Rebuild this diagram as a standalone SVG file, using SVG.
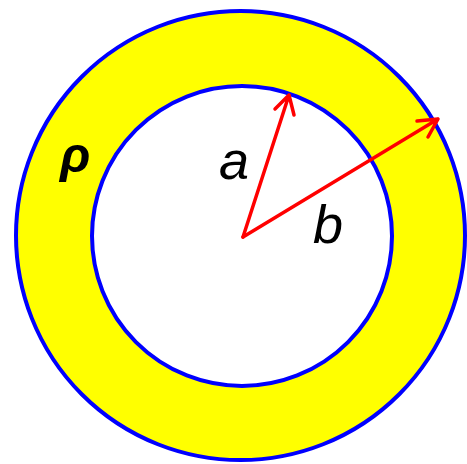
<svg xmlns="http://www.w3.org/2000/svg" width="467" height="464" viewBox="0 0 467 464">
<style>
.ring{stroke:#0000ff;stroke-width:4}
.arr{stroke:#ff0000;stroke-width:3.5;fill:none;stroke-linecap:round;stroke-linejoin:round}
.lbl{font-family:"Liberation Sans",Arial,sans-serif;font-style:italic;font-size:54px;fill:#000}
</style>
<rect width="467" height="464" fill="#ffffff"/>
<g id="outer-circle"><circle class="ring" cx="240.5" cy="235.5" r="224.5" fill="#ffff00"/></g>
<g id="inner-circle"><circle class="ring" cx="242" cy="236" r="150" fill="#ffffff"/></g>
<g id="connectors">
<path class="arr" d="M243,237 L289,95 M275,109 L289,95 L294,115"/>
<path class="arr" d="M243,237 L438,119 M417,121 L438,119 L428,137"/>
</g>
<g id="labels">
<text class="lbl" x="219" y="179">a</text>
<text class="lbl" x="313" y="243">b</text>
<text class="lbl" x="60" y="172" style="font-size:50px;font-weight:bold">ρ</text>
</g>
</svg>
